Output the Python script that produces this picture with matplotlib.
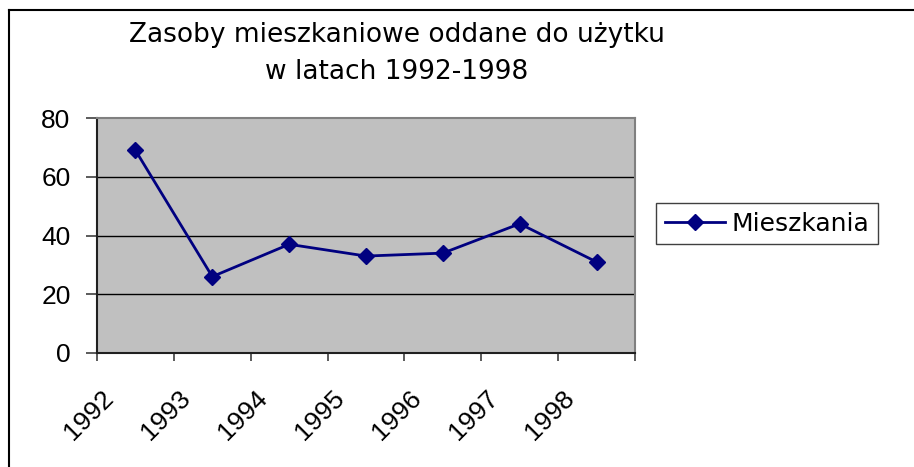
import numpy as np
import matplotlib
matplotlib.use('Agg')
from matplotlib import pyplot as plt
from matplotlib.lines import Line2D
from matplotlib.transforms import ScaledTranslation

years = ['1992', '1993', '1994', '1995', '1996', '1997', '1998']
mieszkania = [69, 26, 37, 33, 34, 44, 31]
y_ticks = [0, 20, 40, 60, 80]
title_1 = 'Zasoby mieszkaniowe oddane do użytku'
title_2 = 'w latach 1992-1998'

W, H = 914, 467
fig = plt.figure(figsize=(W / 100, H / 100), dpi=100)
ax = fig.add_axes([97 / W, 1 - 353 / H, (635 - 97) / W, (353 - 118) / H])

x = np.arange(len(years))
ax.plot(x, mieszkania, color='#000080', lw=2, marker='D', ms=8,
        label='Mieszkania', zorder=3)

ax.set_xlim(-0.5, len(years) - 0.5)
ax.set_ylim(0, 80)
ax.set_facecolor('#C0C0C0')

# grid lines only inside
for v in y_ticks[1:-1]:
    ax.axhline(v, color='black', lw=1, zorder=1)

ax.set_yticks(y_ticks)
ax.tick_params(axis='y', length=8, width=1.2, color='#404040', pad=11,
               labelsize=19, labelfontfamily='Liberation Sans')

# ticks on category borders, labels in the middle
ax.set_xticks(np.arange(-0.5, len(years), 1))
ax.set_xticklabels([])
ax.set_xticks(x, years, minor=True)
ax.tick_params(axis='x', which='major', length=6, width=1.2, color='#404040')
ax.tick_params(axis='x', which='minor', length=0, pad=24, labelsize=19,
               labelfontfamily='Liberation Sans')
shift = ScaledTranslation(-0.34, 0, fig.dpi_scale_trans)
for lab in ax.get_xticklabels(minor=True):
    lab.set_rotation(45)
    lab.set_ha('right')
    lab.set_va('top')
    lab.set_rotation_mode('anchor')
    lab.set_transform(lab.get_transform() + shift)

ax.spines['left'].set_color('#202020')
ax.spines['bottom'].set_color('#202020')
ax.spines['top'].set_color('#808080')
ax.spines['right'].set_color('#808080')
for s in ax.spines.values():
    s.set_linewidth(1.5)

fig.text(397 / W, 1 - 42 / H, title_1, ha='center', va='baseline',
         fontsize=19, family='DejaVu Sans')
fig.text(397 / W, 1 - 79 / H, title_2, ha='center', va='baseline',
         fontsize=19, family='DejaVu Sans')

leg = ax.legend(loc='center left', bbox_to_anchor=(656 / W, 1 - 223.5 / H),
                bbox_transform=fig.transFigure,
                prop={'family': 'DejaVu Sans', 'size': 18},
                fancybox=False, edgecolor='#404040', framealpha=1,
                handlelength=2.4, handletextpad=0.25, borderpad=0.35,
                borderaxespad=0)
leg.get_frame().set_linewidth(1.0)

# outer chart border (left and top edges)
fig.add_artist(Line2D([9 / W, 9 / W], [0, 1 - 10 / H],
                      transform=fig.transFigure, color='black', lw=1.5))
fig.add_artist(Line2D([9 / W, 1], [1 - 10 / H, 1 - 10 / H],
                      transform=fig.transFigure, color='black', lw=1.5))

fig.savefig('out.png', dpi=100)
